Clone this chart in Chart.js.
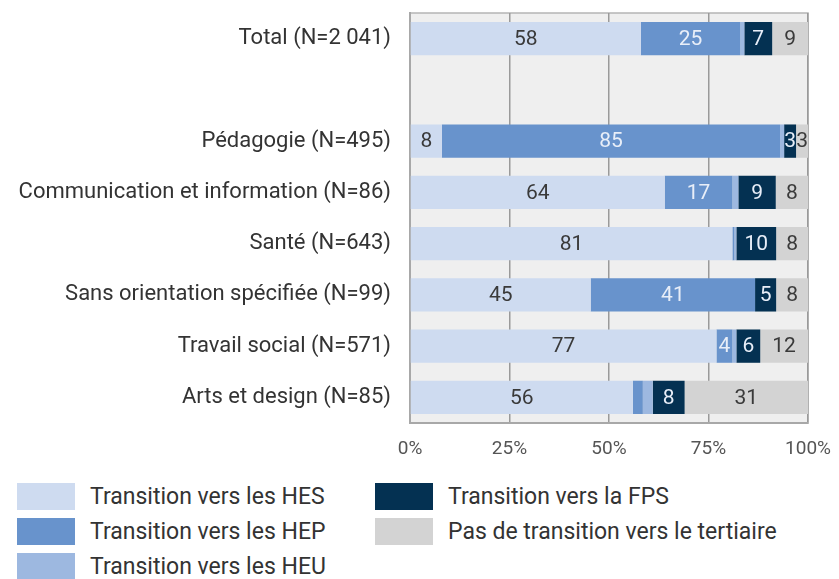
<!DOCTYPE html>
<html>
<head>
<meta charset="utf-8">
<script src="https://cdn.jsdelivr.net/npm/chart.js@4.4.1/dist/chart.umd.min.js"></script>
<style>
  body { margin: 0; background: #fff; font-family: Roboto, sans-serif; overflow: hidden; }
  #wrap { position: relative; width: 839px; height: 470px; }
  #legend {
    position: absolute; left: 17px; top: 483px;
    display: grid; grid-template-rows: 27px 27px 27px; grid-auto-flow: column;
    grid-template-columns: 358px 440px; row-gap: 8px;
  }
  .item { display: flex; align-items: center; font-size: 23px; color: #333; white-space: nowrap; }
  .box { width: 58px; height: 27px; margin-right: 15px; flex: none; }
</style>
</head>
<body>
<div id="wrap"><canvas id="myChart" width="839" height="470"></canvas></div>
<div id="legend"></div>
<script>
var categories = ['Total (N=2 041)', '', 'Pédagogie (N=495)', 'Communication et information (N=86)', 'Santé (N=643)',
  'Sans orientation spécifiée (N=99)', 'Travail social (N=571)', 'Arts et design (N=85)']
var hes = [58, null, 8, 64, 81, 45.4, 77, 56]
var hep = [25, null, 85, 17, 0.5, 41.3, 4, 2.5]
var heu = [1, null, 1, 1.5, 0.5, 0, 1, 2.5]
var fps = [7, null, 3, 9.4, 10, 5.3, 6, 8]
var pas = [9, null, 3, 8.1, 8, 8, 12, 31]
var ticks = ['0%', '25%', '50%', '75%', '100%']

var series = [
  { label: 'Transition vers les HES', data: hes, color: '#cedbf0', text: '#3a3a3a' },
  { label: 'Transition vers les HEP', data: hep, color: '#6893cc', text: '#e8eef8' },
  { label: 'Transition vers les HEU', data: heu, color: '#9db8e0', text: '#333' },
  { label: 'Transition vers la FPS', data: fps, color: '#043152', text: '#e8eef8' },
  { label: 'Pas de transition vers le tertiaire', data: pas, color: '#d3d3d3', text: '#3a3a3a' }
]

// grey plot background + frame
var plotBg = {
  id: 'plotBg',
  beforeDraw: function(chart) {
    var a = chart.chartArea, ctx = chart.ctx
    ctx.save()
    ctx.fillStyle = '#efefef'
    ctx.fillRect(a.left, a.top, a.right - a.left, a.bottom - a.top)
    ctx.strokeStyle = '#b5b5b5'
    ctx.lineWidth = 1.5
    ctx.strokeRect(a.left, a.top, a.right - a.left, a.bottom - a.top)
    ctx.restore()
  }
}

// values written in the middle of each segment
var barLabels = {
  id: 'barLabels',
  afterDatasetsDraw: function(chart) {
    var ctx = chart.ctx
    ctx.save()
    ctx.font = '21px Roboto'
    ctx.textAlign = 'center'
    ctx.textBaseline = 'middle'
    chart.data.datasets.forEach(function(ds, i) {
      chart.getDatasetMeta(i).data.forEach(function(bar, j) {
        var v = ds.data[j]
        if (v == null || v < 3) return
        var p = bar.getProps(['x', 'base', 'y'], true)
        ctx.fillStyle = series[i].text
        ctx.fillText(Math.round(v), (p.x + p.base) / 2, p.y + 1)
      })
    })
    ctx.restore()
  }
}

var ctx = document.getElementById('myChart').getContext('2d')
var myChart = new Chart(ctx, {
  type: 'bar',
  data: {
    labels: categories,
    datasets: series.map(function(s) {
      return { label: s.label, data: s.data, backgroundColor: s.color, borderWidth: 0,
        barPercentage: 0.65, categoryPercentage: 1 }
    })
  },
  options: {
    indexAxis: 'y',
    responsive: false,
    animation: false,
    layout: { padding: { top: 13, right: 31, left: 0, bottom: 0 } },
    plugins: { legend: { display: false }, tooltip: { enabled: false } },
    scales: {
      x: {
        stacked: true, min: 0, max: 100,
        afterBuildTicks: function(axis) {
          axis.ticks = [0, 25, 50, 75, 100].map(function(v) { return { value: v } })
        },
        afterFit: function(axis) {
          axis.height = 47
          axis.paddingLeft = 0
          axis.paddingRight = 0
        },
        grid: { color: '#9a9a9a', lineWidth: 1.5, drawTicks: false },
        border: { color: '#a8a8a8', width: 2 },
        ticks: {
          padding: 15, color: '#555', font: { family: 'Roboto', size: 19 },
          callback: function(v, i) { return ticks[i] }
        }
      },
      y: {
        stacked: true,
        afterFit: function(axis) {
          axis.width = 410
          axis.paddingTop = 0
          axis.paddingBottom = 0
        },
        grid: { display: false },
        border: { color: '#a8a8a8', width: 2 },
        ticks: { padding: 11, color: '#333', font: { family: 'Roboto', size: 22 } }
      }
    }
  },
  plugins: [plotBg, barLabels]
})

var legend = document.getElementById('legend')
series.forEach(function(s) {
  var item = document.createElement('div')
  item.className = 'item'
  var box = document.createElement('span')
  box.className = 'box'
  box.style.background = s.color
  item.appendChild(box)
  item.appendChild(document.createTextNode(s.label))
  legend.appendChild(item)
})
</script>
</body>
</html>
